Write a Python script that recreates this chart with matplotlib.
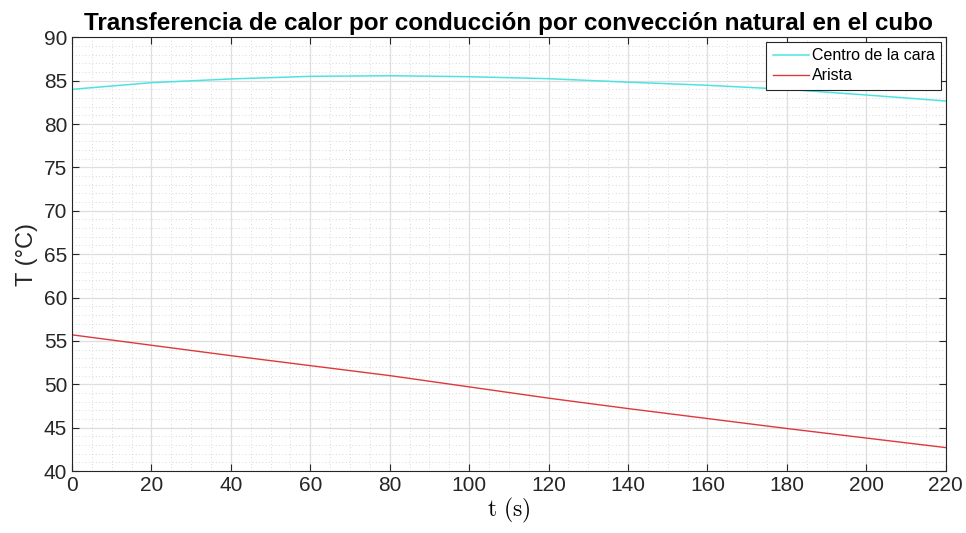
import matplotlib
matplotlib.use('Agg')
import matplotlib.pyplot as plt
from matplotlib.ticker import MultipleLocator

# datos
t = [0, 20, 40, 60, 80, 100, 120, 140, 160, 180, 200, 220]
centro = [84.0, 84.77, 85.2, 85.5, 85.57, 85.46, 85.23, 84.83, 84.47, 84.0, 83.35, 82.66]
arista = [55.7, 54.5, 53.3, 52.15, 51.0, 49.7, 48.4, 47.2, 46.05, 44.9, 43.8, 42.7]

plt.rcParams['font.family'] = ['Liberation Sans', 'DejaVu Sans']
plt.rcParams['mathtext.fontset'] = 'cm'

fig = plt.figure(figsize=(9.66, 5.33), dpi=100)
ax = fig.add_axes([0.0745, 0.1163, 0.9045, 0.8137])

ax.plot(t, centro, color='#4de3e3', lw=1.1, label='Centro de la cara')
ax.plot(t, arista, color='#e0383a', lw=1.0, label='Arista')

ax.set_xlim(0, 220)
ax.set_ylim(40, 90)
ax.xaxis.set_major_locator(MultipleLocator(20))
ax.xaxis.set_minor_locator(MultipleLocator(5))
ax.yaxis.set_major_locator(MultipleLocator(5))
ax.yaxis.set_minor_locator(MultipleLocator(1))

ax.grid(which='major', color='#dedede', lw=0.9, ls='-')
ax.grid(which='minor', color='#cdcdcd', lw=0.6, ls=(0, (1, 3)))
ax.set_axisbelow(True)

ax.tick_params(which='both', direction='in', top=True, right=True, colors='#262626',
               labelsize=15, length=5)
ax.tick_params(which='minor', length=0)
for s in ax.spines.values():
    s.set_color('#262626')
    s.set_linewidth(0.8)

ax.set_title('Transferencia de calor por conducción por convección natural en el cubo',
             fontsize=17.5, fontweight='bold', pad=5)
ax.set_xlabel(r'$\mathrm{t\ (s)}$', fontsize=17, labelpad=1)
ax.set_ylabel('T (°C)', fontsize=17, color='#262626', labelpad=4)

leg = ax.legend(loc='upper right', fontsize=11.5, fancybox=False, framealpha=1,
                edgecolor='#262626', borderaxespad=0.3, handlelength=2.3,
                handletextpad=0.15, borderpad=0.4, labelspacing=0.3)
leg.get_frame().set_linewidth(0.8)

plt.savefig('out.png', dpi=100)
